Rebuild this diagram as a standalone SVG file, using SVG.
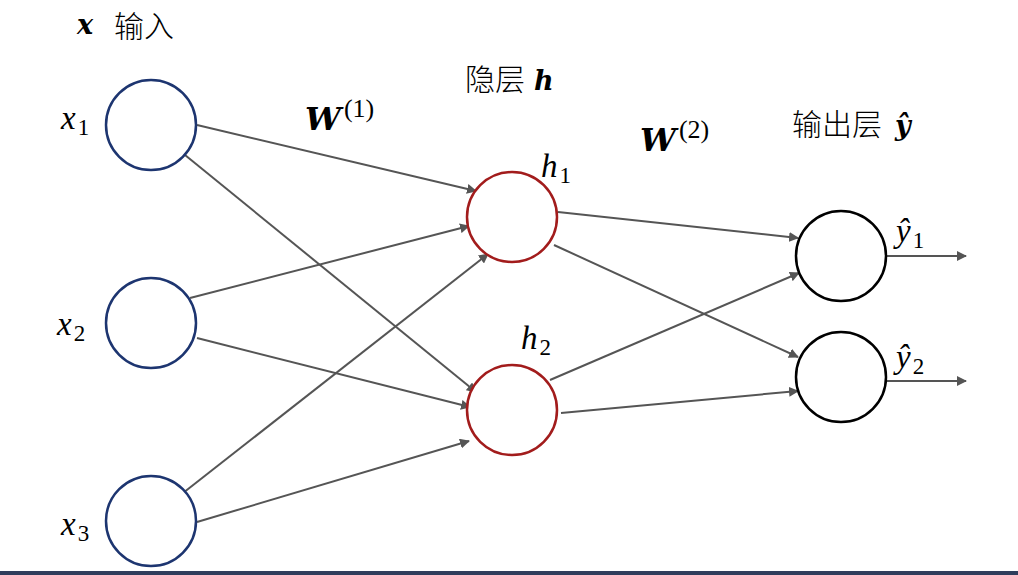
<svg xmlns="http://www.w3.org/2000/svg" width="1018" height="575" viewBox="0 0 1018 575">
<defs>
<marker id="arr" viewBox="0 0 10 10" refX="9" refY="5" markerWidth="5" markerHeight="5" orient="auto" markerUnits="strokeWidth">
<path d="M0,0 L10,5 L0,10 Z" fill="#555"/>
</marker>
<style>
.cn{font-family:"Noto Sans CJK SC","Noto Sans",sans-serif;font-size:30px;font-weight:300;fill:#000}
.m{font-family:"Liberation Serif","DejaVu Serif",serif;font-style:italic;font-size:33px;fill:#000}
.mb{font-family:"DejaVu Serif","Liberation Serif",serif;font-style:italic;font-weight:bold;font-size:27px;fill:#000}
.sub{font-family:"Liberation Serif","DejaVu Serif",serif;font-style:normal;font-size:23px}
.sup{font-family:"Liberation Serif","DejaVu Serif",serif;font-style:normal;font-weight:normal;font-size:26px}
.in{fill:#fff;stroke:#1d3570;stroke-width:2.5}
.hid{fill:#fff;stroke:#a21c1c;stroke-width:2.5}
.out{fill:#fff;stroke:#000;stroke-width:2.5}
.e{stroke:#555;stroke-width:2;fill:none;marker-end:url(#arr)}
</style>
</defs>
<rect width="1018" height="575" fill="#fff"/>
<rect x="0" y="571" width="1018" height="4" fill="#2f3d5c"/>
<g id="connectors">
<line class="e" x1="197" y1="125" x2="476" y2="191"/>
<line class="e" x1="185" y1="155" x2="476" y2="392"/>
<line class="e" x1="190" y1="298" x2="469" y2="226"/>
<line class="e" x1="197" y1="338" x2="470" y2="407"/>
<line class="e" x1="183" y1="493" x2="488" y2="254"/>
<line class="e" x1="197" y1="522" x2="469" y2="441"/>
<line class="e" x1="558" y1="212" x2="798" y2="238"/>
<line class="e" x1="554" y1="245" x2="798" y2="357"/>
<line class="e" x1="550" y1="380" x2="799" y2="273"/>
<line class="e" x1="561" y1="413" x2="798" y2="391"/>
<line class="e" x1="886" y1="256" x2="966" y2="256"/>
<line class="e" x1="886" y1="381" x2="966" y2="381"/>
</g>
<g id="title-input">
<text class="mb" x="77" y="34">x</text>
<text class="cn" x="114" y="37">输入</text>
</g>
<g id="title-hidden">
<text class="cn" x="465" y="90">隐层</text>
<text class="mb" x="534" y="90">h</text>
</g>
<g id="title-output">
<text class="cn" x="792" y="135">输出层</text>
<text class="mb" x="895" y="135">ŷ</text>
</g>
<g id="w1"><text class="mb" x="305" y="130" style="font-size:32px">W<tspan class="sup" dx="3" dy="-13">(1)</tspan></text></g>
<g id="w2"><text class="mb" x="640" y="151" style="font-size:32px">W<tspan class="sup" dx="3" dy="-13">(2)</tspan></text></g>
<g id="x1"><circle class="in" cx="151" cy="125" r="45"/><text class="m" x="61" y="129">x<tspan class="sub" dx="2" dy="6">1</tspan></text></g>
<g id="x2"><circle class="in" cx="151" cy="323" r="45"/><text class="m" x="57" y="335">x<tspan class="sub" dx="2" dy="6">2</tspan></text></g>
<g id="x3"><circle class="in" cx="151" cy="521" r="45"/><text class="m" x="61" y="535">x<tspan class="sub" dx="2" dy="6">3</tspan></text></g>
<g id="h1"><circle class="hid" cx="512" cy="217" r="45"/><text class="m" x="541" y="177">h<tspan class="sub" dx="2" dy="6">1</tspan></text></g>
<g id="h2"><circle class="hid" cx="512" cy="410" r="45"/><text class="m" x="521" y="349">h<tspan class="sub" dx="2" dy="6">2</tspan></text></g>
<g id="y1"><circle class="out" cx="841" cy="256" r="45"/><text class="m" x="896" y="242">ŷ<tspan class="sub" dx="2" dy="6">1</tspan></text></g>
<g id="y2"><circle class="out" cx="841" cy="377" r="45"/><text class="m" x="896" y="368">ŷ<tspan class="sub" dx="2" dy="6">2</tspan></text></g>
</svg>
